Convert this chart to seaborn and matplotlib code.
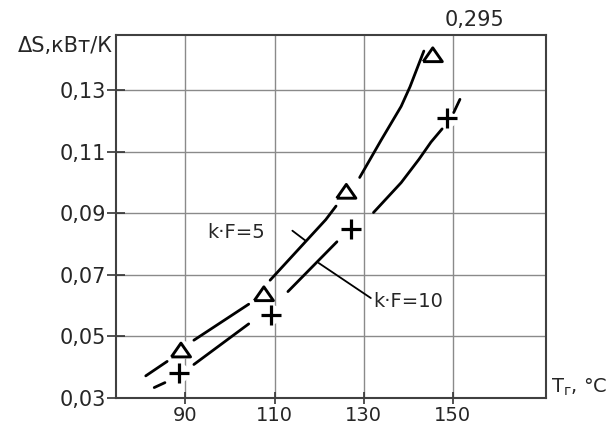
import pandas as pd
import numpy as np
import seaborn as sns
import matplotlib.pyplot as plt

# points
tri_x = [89.0, 107.6, 126.1, 145.5]
tri_y = [0.0456, 0.0639, 0.0972, 0.1416]
plus_x = [88.6, 109.3, 127.2, 148.8]
plus_y = [0.0381, 0.0571, 0.0851, 0.1210]

# k*F=5 curve, broken where it passes the markers
c5_x = [81.1, 85.9, 91.9, 104.2, 109.0, 121.5, 123.8, 129.1, 133.9, 138.4, 140.4, 142.4, 143.5]
c5_y = [0.0372, 0.0419, 0.0488, 0.0605, 0.0683, 0.0880, 0.0924, 0.1017, 0.1138, 0.1248, 0.1312, 0.1387, 0.1428]
c5_seg = [1, 1, 2, 2, 3, 3, 3, 4, 4, 4, 4, 4, 4]

# k*F=10 curve
c10_x = [83.0, 85.4, 91.9, 104.2, 113.0, 124.0, 132.2, 138.4, 142.4, 145.1, 147.6, 150.2, 151.6]
c10_y = [0.0334, 0.0350, 0.0409, 0.0541, 0.0646, 0.0808, 0.0903, 0.1000, 0.1076, 0.1132, 0.1175, 0.1228, 0.1271]
c10_seg = [1, 1, 2, 2, 3, 3, 4, 4, 4, 4, 4, 5, 5]

x_ticks = [90, 110, 130, 150]
y_ticks = [0.03, 0.05, 0.07, 0.09, 0.11, 0.13]
y_labels = ['0,03', '0,05', '0,07', '0,09', '0,11', '0,13']

# leader lines for the curve labels
lead5_x = [114.0, 117.0]
lead5_y = [0.0844, 0.0811]
lead10_x = [119.9, 131.6]
lead10_y = [0.0739, 0.0625]

sns.set_style('white')
plt.rcParams['font.family'] = ['DejaVu Sans']

fig = plt.figure(figsize=(6.1, 4.25), dpi=100)
ax = fig.add_axes([0.190, 0.0635, 0.705, 0.854])

df5 = pd.DataFrame({'x': c5_x, 'y': c5_y, 'seg': c5_seg})
df10 = pd.DataFrame({'x': c10_x, 'y': c10_y, 'seg': c10_seg})

# white patches behind the markers break the grid like in the original
sns.scatterplot(x=tri_x + plus_x, y=tri_y + plus_y, marker='o', s=200,
                color='white', edgecolor='none', zorder=1.5, ax=ax, legend=False)

sns.lineplot(data=df5, x='x', y='y', units='seg', estimator=None, sort=False,
             color='black', lw=2.0, zorder=2, ax=ax, legend=False)
sns.lineplot(data=df10, x='x', y='y', units='seg', estimator=None, sort=False,
             color='black', lw=2.0, zorder=2, ax=ax, legend=False)

tri_marker = [(-1, -0.72), (1, -0.72), (0, 0.72), (-1, -0.72)]
sns.scatterplot(x=tri_x, y=tri_y, marker=tri_marker, s=190, facecolor='none',
                edgecolor='black', linewidth=2.1, zorder=3, ax=ax, legend=False)
sns.scatterplot(x=plus_x, y=plus_y, marker='+', s=210, color='black',
                linewidth=2.3, zorder=3, ax=ax, legend=False)

ax.plot(lead5_x, lead5_y, color='black', lw=1.3)
ax.plot(lead10_x, lead10_y, color='black', lw=1.3)
ax.text(101.3, 0.0838, 'k·F=5', fontsize=14, ha='center', va='center')
ax.text(132.2, 0.0615, 'k·F=10', fontsize=14, ha='left', va='center')

ax.set_xlim(74.4, 170.9)
ax.set_ylim(0.03, 0.148)
ax.set_xticks(x_ticks)
ax.set_xticklabels([str(t) for t in x_ticks])
ax.set_yticks(y_ticks)
ax.set_yticklabels(y_labels)
ax.set_xlabel('')
ax.set_ylabel('')

ax.grid(True, color='#8a8a8a', lw=1.0)
ax.set_axisbelow(True)
for s in ax.spines.values():
    s.set_visible(True)
    s.set_color('#404040')
    s.set_linewidth(1.5)

ax.tick_params(axis='x', direction='inout', length=9, width=1.2, color='#333333',
               labelsize=14, pad=1.5, bottom=True)
ax.tick_params(axis='y', direction='inout', length=13, width=1.2, color='#333333',
               labelsize=15, pad=0.5, left=True)

ax.text(-0.007, 0.970, 'ΔS,кВт/К', transform=ax.transAxes, fontsize=15,
        ha='right', va='center')
ax.text(0.835, 1.041, '0,295', transform=ax.transAxes, fontsize=15,
        ha='center', va='center')
ax.text(1.012, 0.028, r'T$_\mathregular{г}$, °C', transform=ax.transAxes, fontsize=14,
        ha='left', va='center')

plt.savefig('out.png', dpi=100)
